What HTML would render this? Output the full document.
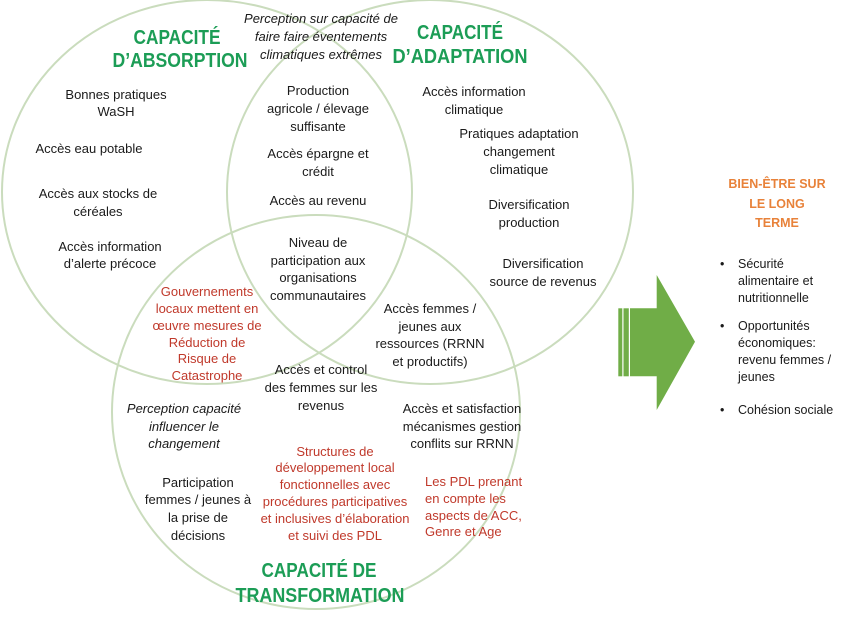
<!DOCTYPE html>
<html><head><meta charset="utf-8"><style>
html,body{margin:0;padding:0;background:#fff;}
svg{display:block;}
text{font-family:"Liberation Sans",Arial,sans-serif;}
.b{font-size:13px;fill:#1a1a1a;text-anchor:middle;}
.i{font-size:13px;fill:#1a1a1a;text-anchor:middle;font-style:italic;}
.r{font-size:13px;fill:#c0392b;text-anchor:middle;}
.rl{font-size:13px;fill:#c0392b;text-anchor:start;}
.t{font-size:20px;font-weight:bold;fill:#1c9d56;text-anchor:middle;}
.o{font-size:12.5px;font-weight:bold;fill:#e8823a;text-anchor:middle;}
.p{font-size:12.5px;fill:#1a1a1a;}
</style></head><body>
<svg width="850" height="621" viewBox="0 0 850 621" xmlns="http://www.w3.org/2000/svg">
<rect width="850" height="621" fill="#fff"/>
<g fill="none" stroke="#cadcbd" stroke-width="2">
<ellipse cx="207" cy="192" rx="205" ry="192"/>
<ellipse cx="430" cy="192" rx="203" ry="192"/>
<ellipse cx="316" cy="412" rx="204" ry="197"/>
</g>

<!-- titles -->
<text class="t" x="177" y="44" textLength="87" lengthAdjust="spacingAndGlyphs">CAPACITÉ</text>
<text class="t" x="180" y="67" textLength="135" lengthAdjust="spacingAndGlyphs">D’ABSORPTION</text>
<text class="t" x="460" y="39" textLength="86" lengthAdjust="spacingAndGlyphs">CAPACITÉ</text>
<text class="t" x="460" y="63" textLength="135" lengthAdjust="spacingAndGlyphs">D’ADAPTATION</text>
<text class="t" x="319" y="577" textLength="115" lengthAdjust="spacingAndGlyphs">CAPACITÉ DE</text>
<text class="t" x="320" y="602" textLength="169" lengthAdjust="spacingAndGlyphs">TRANSFORMATION</text>

<!-- top italic -->
<text class="i" x="321" y="23">Perception sur capacité de</text>
<text class="i" x="321" y="41">faire faire éventements</text>
<text class="i" x="321" y="59">climatiques extrêmes</text>

<!-- circle 1 -->
<text class="b" x="116" y="99">Bonnes pratiques</text>
<text class="b" x="116" y="116">WaSH</text>
<text class="b" x="89" y="153">Accès eau potable</text>
<text class="b" x="98" y="198">Accès aux stocks de</text>
<text class="b" x="98" y="216">céréales</text>
<text class="b" x="110" y="251">Accès information</text>
<text class="b" x="110" y="268">d’alerte précoce</text>

<!-- center top -->
<text class="b" x="318" y="95">Production</text>
<text class="b" x="318" y="113">agricole / élevage</text>
<text class="b" x="318" y="131">suffisante</text>
<text class="b" x="318" y="158">Accès épargne et</text>
<text class="b" x="318" y="176">crédit</text>
<text class="b" x="318" y="205">Accès au revenu</text>
<text class="b" x="318" y="247">Niveau de</text>
<text class="b" x="318" y="265">participation aux</text>
<text class="b" x="318" y="282">organisations</text>
<text class="b" x="318" y="300">communautaires</text>

<!-- circle 2 -->
<text class="b" x="474" y="96">Accès information</text>
<text class="b" x="474" y="114">climatique</text>
<text class="b" x="519" y="138">Pratiques adaptation</text>
<text class="b" x="519" y="156">changement</text>
<text class="b" x="519" y="174">climatique</text>
<text class="b" x="529" y="209">Diversification</text>
<text class="b" x="529" y="227">production</text>
<text class="b" x="543" y="268">Diversification</text>
<text class="b" x="543" y="286">source de revenus</text>

<!-- red left -->
<text class="r" x="207" y="296">Gouvernements</text>
<text class="r" x="207" y="313">locaux mettent en</text>
<text class="r" x="207" y="330">œuvre mesures de</text>
<text class="r" x="207" y="347">Réduction de</text>
<text class="r" x="207" y="363">Risque de</text>
<text class="r" x="207" y="380">Catastrophe</text>

<!-- femmes ressources -->
<text class="b" x="430" y="313">Accès femmes /</text>
<text class="b" x="430" y="331">jeunes aux</text>
<text class="b" x="430" y="348">ressources (RRNN</text>
<text class="b" x="430" y="366">et productifs)</text>

<text class="b" x="321" y="374">Accès et control</text>
<text class="b" x="321" y="392">des femmes sur les</text>
<text class="b" x="321" y="410">revenus</text>

<text class="i" x="184" y="413">Perception capacité</text>
<text class="i" x="184" y="431">influencer le</text>
<text class="i" x="184" y="448">changement</text>

<text class="b" x="462" y="413">Accès et satisfaction</text>
<text class="b" x="462" y="431">mécanismes gestion</text>
<text class="b" x="462" y="448">conflits sur RRNN</text>

<text class="r" x="335" y="456">Structures de</text>
<text class="r" x="335" y="472">développement local</text>
<text class="r" x="335" y="489">fonctionnelles avec</text>
<text class="r" x="335" y="506">procédures participatives</text>
<text class="r" x="335" y="523">et inclusives d’élaboration</text>
<text class="r" x="335" y="540">et suivi des PDL</text>

<text class="b" x="198" y="487">Participation</text>
<text class="b" x="198" y="504">femmes / jeunes à</text>
<text class="b" x="198" y="522">la  prise de</text>
<text class="b" x="198" y="540">décisions</text>

<text class="rl" x="425" y="486">Les PDL prenant</text>
<text class="rl" x="425" y="503">en compte les</text>
<text class="rl" x="425" y="520">aspects de ACC,</text>
<text class="rl" x="425" y="536">Genre et Age</text>

<!-- arrow -->
<g fill="#70ad47">
<rect x="618.3" y="308.3" width="4" height="68"/>
<rect x="623.5" y="308.3" width="5.3" height="68"/>
<polygon points="630,308.3 656.7,308.3 656.7,275 695,341.7 656.7,410 656.7,376.3 630,376.3"/>
</g>

<!-- right panel -->
<text class="o" x="777" y="188">BIEN-ÊTRE SUR</text>
<text class="o" x="777" y="208">LE LONG</text>
<text class="o" x="777" y="227">TERME</text>

<g class="p">
<text class="p" x="720" y="268">•</text>
<text class="p" x="738" y="268">Sécurité</text>
<text class="p" x="738" y="285">alimentaire  et</text>
<text class="p" x="738" y="302">nutritionnelle</text>
<text class="p" x="720" y="330">•</text>
<text class="p" x="738" y="330">Opportunités</text>
<text class="p" x="738" y="347">économiques:</text>
<text class="p" x="738" y="364">revenu femmes /</text>
<text class="p" x="738" y="381">jeunes</text>
<text class="p" x="720" y="414">•</text>
<text class="p" x="738" y="414">Cohésion sociale</text>
</g>
</svg>
</body></html>
